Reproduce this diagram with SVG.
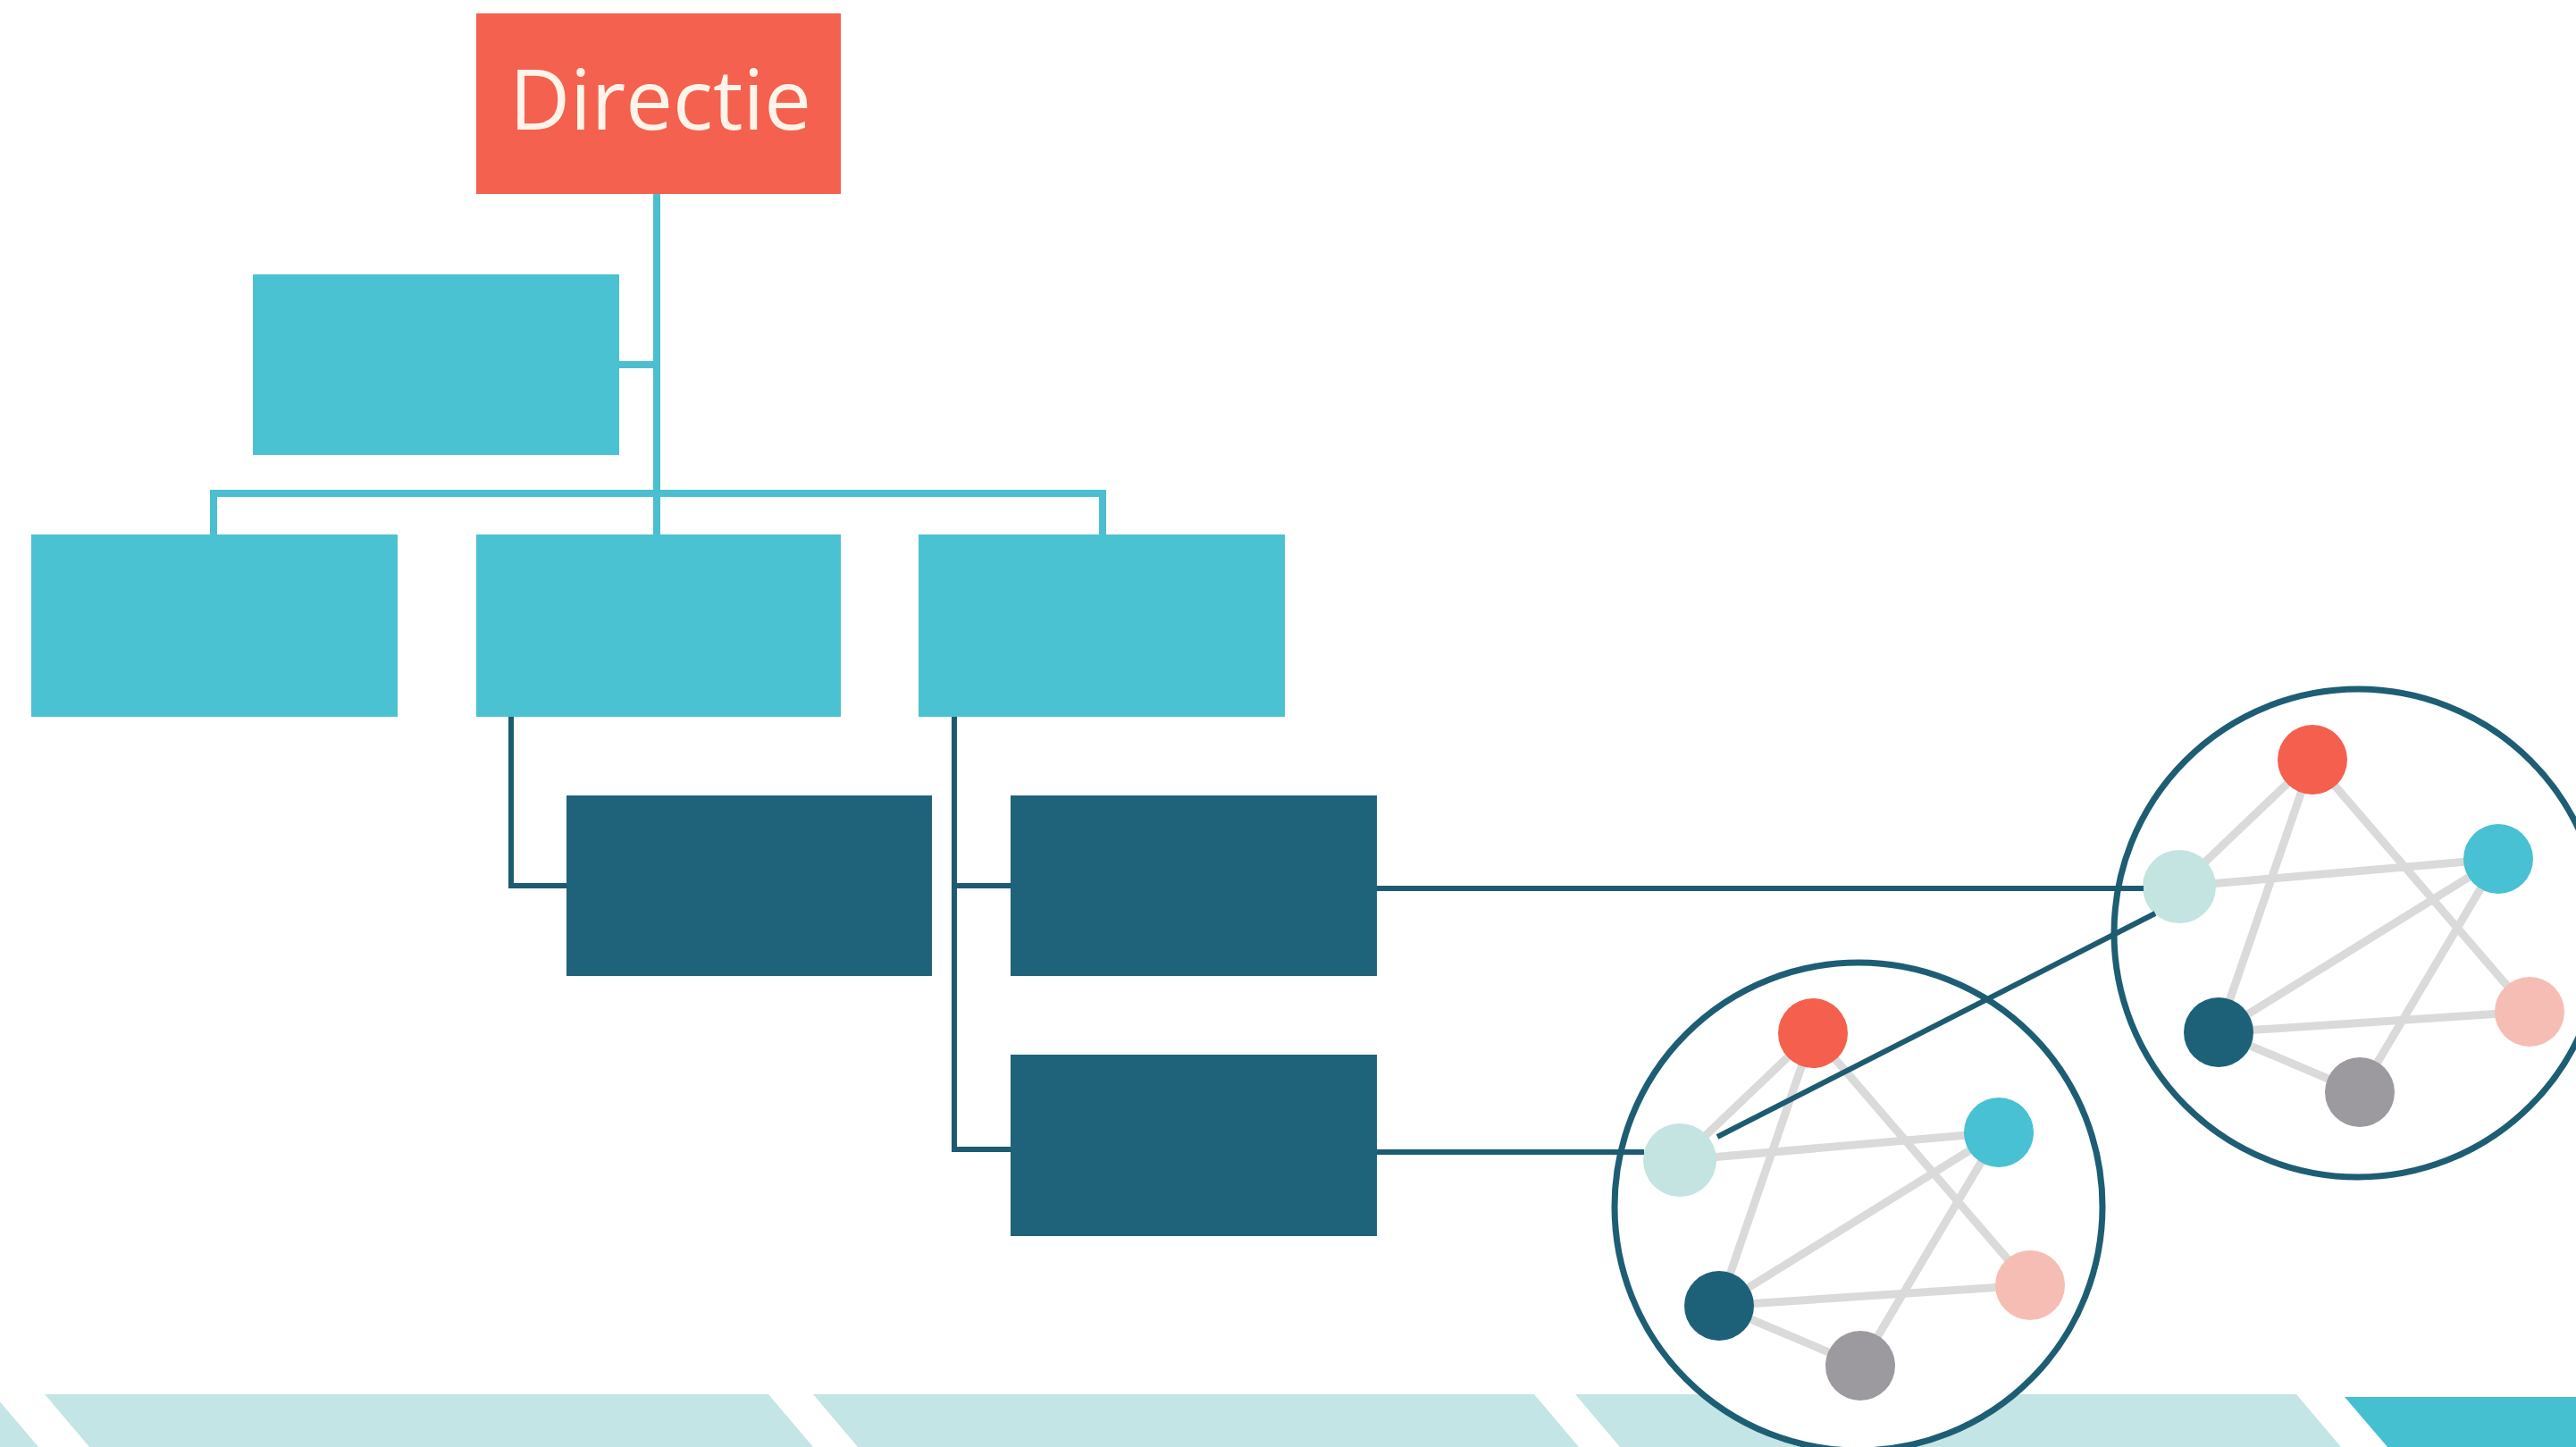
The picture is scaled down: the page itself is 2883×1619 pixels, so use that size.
<svg xmlns="http://www.w3.org/2000/svg" xmlns:xlink="http://www.w3.org/1999/xlink" width="2883" height="1619" viewBox="0 0 2883 1619">
  <style>
    .top { fill: #f4614f; }
    .mid { fill: #4bc2d2; }
    .low { fill: #1f637b; }
    .lbl { font-family: "Open Sans", "Noto Sans", "Liberation Sans", sans-serif; font-size: 94px; fill: #fff4ea; text-anchor: middle; }
    .cyanline { fill: none; stroke: #4bbfcf; stroke-width: 8; }
    .darkline { fill: none; stroke: #1d5b70; stroke-width: 6; }
    .ring { fill: #ffffff; stroke: #1d5e74; stroke-width: 7; }
    .edge { stroke: #dadada; stroke-width: 9; stroke-linecap: round; }
    .band { fill: #c3e5e6; }
    .band2 { fill: #45c0d0; }
  </style>
  <defs>
    <g id="net">
      <circle class="ring" cx="0" cy="0" r="273"/>
      <g class="edges">
        <line class="edge" x1="-200" y1="-52" x2="-51" y2="-194"/>
        <line class="edge" x1="-51" y1="-194" x2="-156" y2="111"/>
        <line class="edge" x1="-51" y1="-194" x2="192" y2="88"/>
        <line class="edge" x1="-200" y1="-52" x2="157" y2="-83"/>
        <line class="edge" x1="157" y1="-83" x2="-156" y2="111"/>
        <line class="edge" x1="157" y1="-83" x2="2" y2="178"/>
        <line class="edge" x1="-156" y1="111" x2="192" y2="88"/>
        <line class="edge" x1="-156" y1="111" x2="2" y2="178"/>
      </g>
      <circle cx="-51" cy="-194" r="39" fill="#f4604d"/>
      <circle cx="-200" cy="-52" r="41" fill="#c3e4e1"/>
      <circle cx="157" cy="-83" r="39" fill="#47c1d3"/>
      <circle cx="-156" cy="111" r="39" fill="#1d6179"/>
      <circle cx="192" cy="88" r="39" fill="#f6bdb4"/>
      <circle cx="2" cy="178" r="39" fill="#9c9a9f"/>
    </g>
  </defs>

  <rect width="2883" height="1619" fill="#ffffff"/>

  <g id="band">
    <polygon class="band" points="-120,1560 -7,1560 43,1619 -120,1619"/>
    <polygon class="band" points="50,1560 860,1560 910,1619 100,1619"/>
    <polygon class="band" points="910,1560 1717,1560 1767,1619 960,1619"/>
    <polygon class="band" points="1763,1560 2570,1560 2620,1619 1813,1619"/>
    <polygon class="band2" points="2624,1563 2900,1563 2900,1619 2672,1619"/>
  </g>

  <g id="connectors-org">
    <path class="cyanline" d="M735,217 V598"/>
    <path class="cyanline" d="M693,408 H735"/>
    <path class="cyanline" d="M239,598 V552 H1234 V598"/>
    <path class="darkline" d="M572,802 V991 H634"/>
    <path class="darkline" d="M1068,802 V1286 H1131"/>
    <path class="darkline" d="M1068,991 H1131"/>
  </g>

  <g id="node-directie">
    <rect class="top" x="533" y="15" width="408" height="202"/>
    <text class="lbl" x="739" y="145">Directie</text>
  </g>
  <g id="node-a"><rect class="mid" x="283" y="307" width="410" height="202"/></g>
  <g id="node-b1"><rect class="mid" x="35" y="598" width="410" height="204"/></g>
  <g id="node-b2"><rect class="mid" x="533" y="598" width="408" height="204"/></g>
  <g id="node-b3"><rect class="mid" x="1028" y="598" width="410" height="204"/></g>
  <g id="node-d1"><rect class="low" x="634" y="890" width="409" height="202"/></g>
  <g id="node-d2"><rect class="low" x="1131" y="890" width="410" height="202"/></g>
  <g id="node-d3"><rect class="low" x="1131" y="1180" width="410" height="203"/></g>

  <g id="network-small"><use xlink:href="#net" href="#net" transform="translate(2080,1350)"/></g>
  <g id="network-large"><use xlink:href="#net" href="#net" transform="translate(2639,1044)"/></g>

  <g id="connectors-net">
    <path class="darkline" d="M1541,994 H2399"/>
    <path class="darkline" d="M1541,1289 H1840"/>
    <path class="darkline" stroke-width="7" d="M1922,1272 L2412,1022"/>
  </g>
</svg>
